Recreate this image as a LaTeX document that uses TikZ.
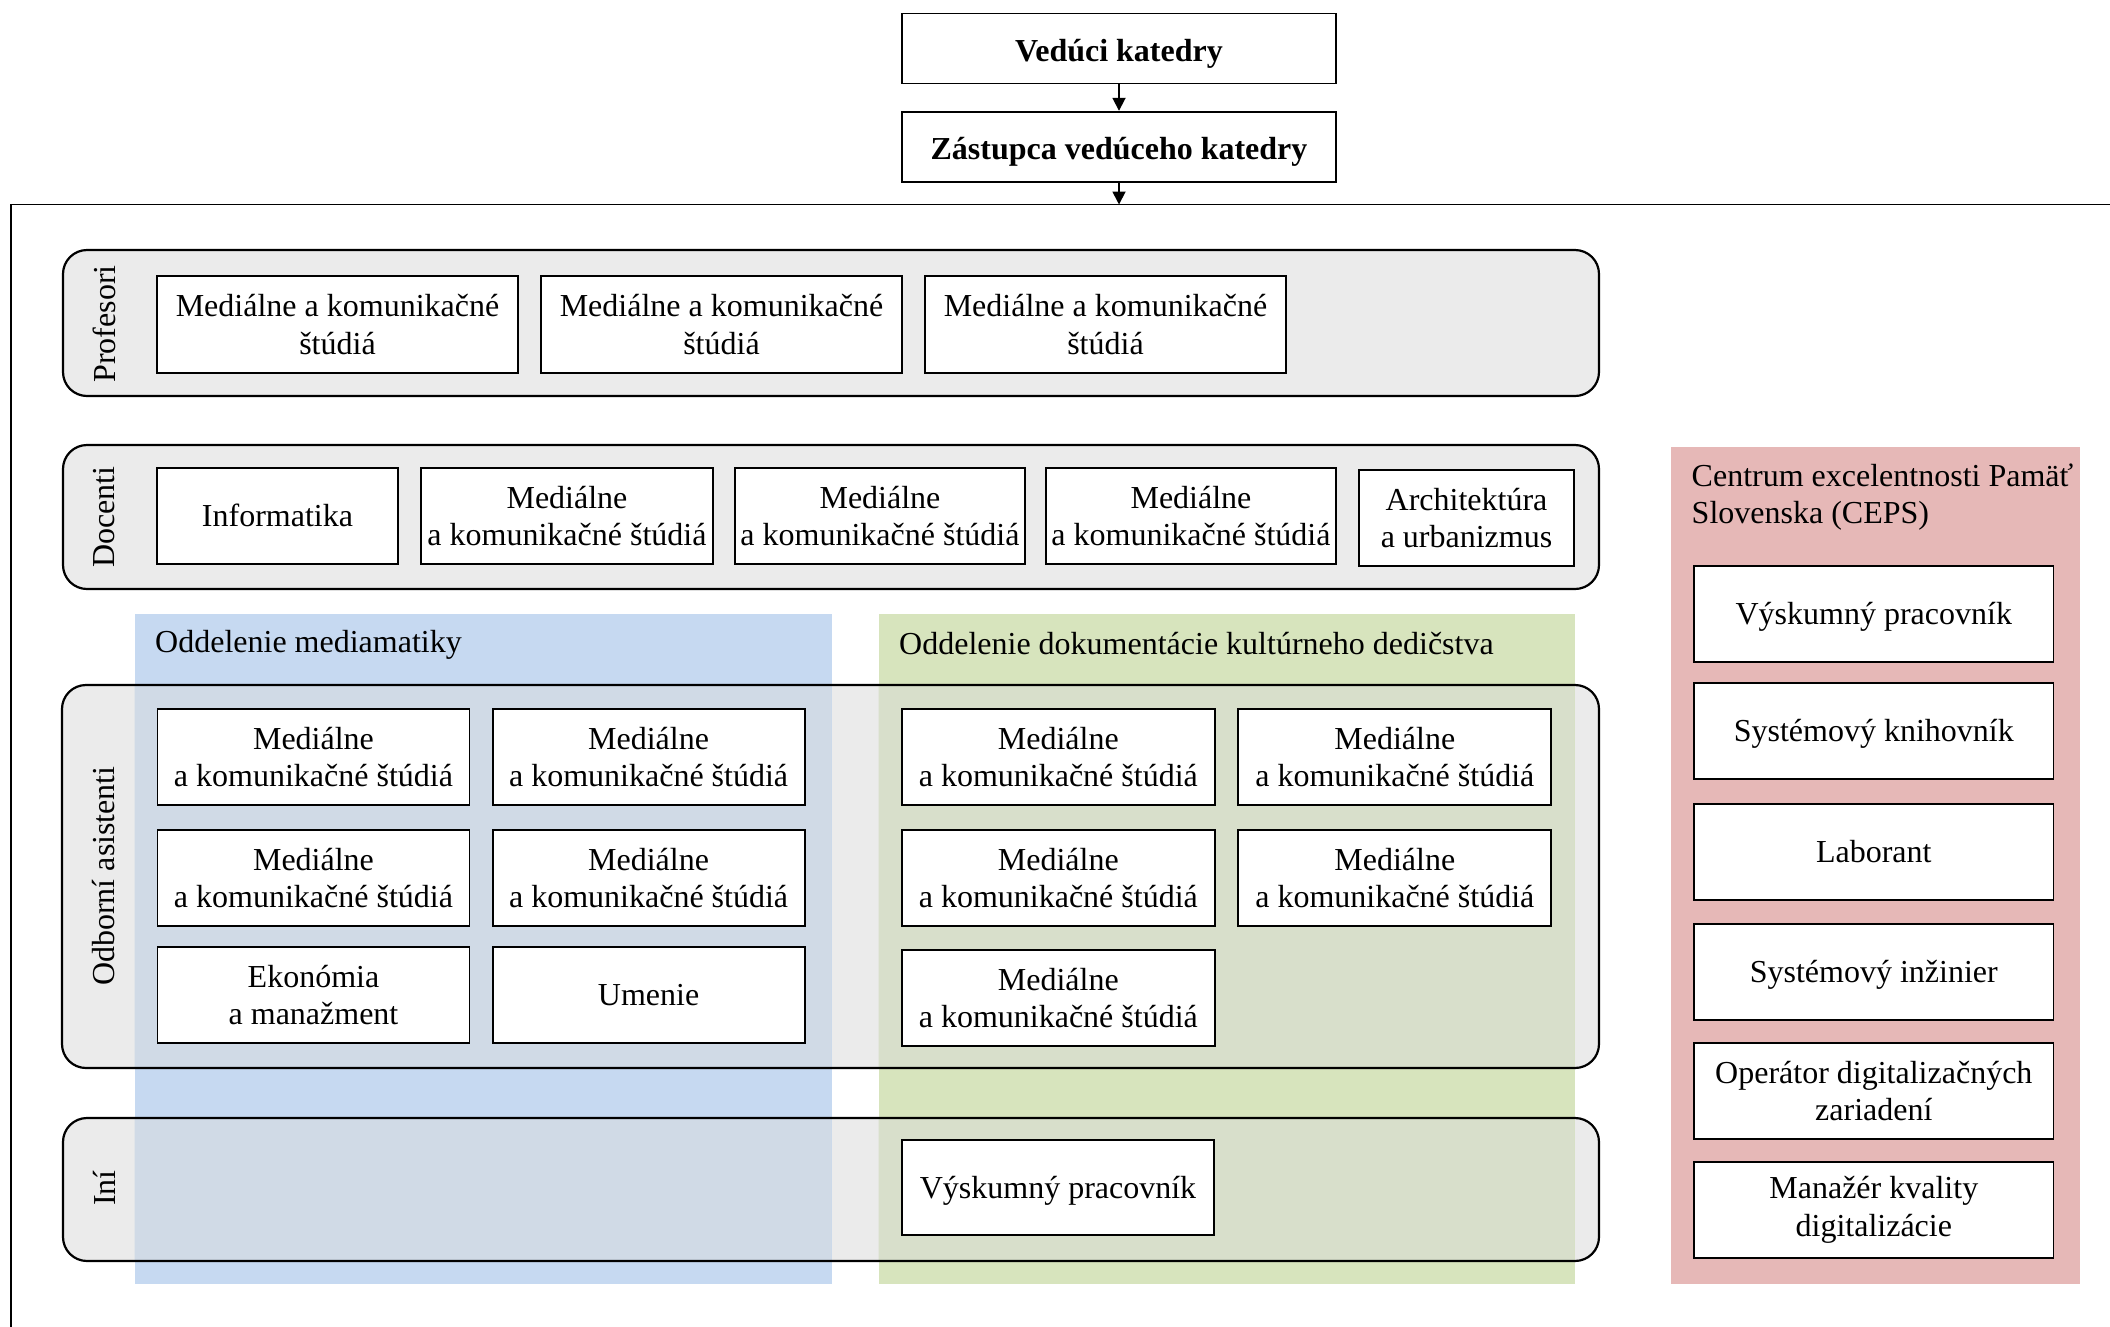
\documentclass[tikz,border=0pt]{standalone}
\usepackage{fontspec}
\setmainfont{Liberation Serif}
\usetikzlibrary{arrows.meta}
\definecolor{bandgray}{HTML}{EBEBEB}
\definecolor{deptblue}{HTML}{C6D9F1}
\definecolor{blueover}{HTML}{D0DAE6}
\definecolor{deptgreen}{HTML}{D7E4BD}
\definecolor{greenover}{HTML}{D8DFCB}
\definecolor{cepspink}{HTML}{E6B8B7}
\tikzset{
  txt/.style={font={\fontsize{32}{37.7}\selectfont}},
  box/.style={txt, draw=black, fill=white, line width=1.8pt, align=center, inner sep=2pt},
  oneline/.style={text height=28.5pt, text depth=6.9pt},
  topbox/.style={box, font={\fontsize{32}{37.7}\selectfont\bfseries}, minimum width=434pt, minimum height=70pt, text height=32.5pt, text depth=7pt},
  bandline/.style={draw=black, line width=2.2pt, rounded corners=24pt},
  bandfill/.style={fill=bandgray, rounded corners=24pt},
  vlabel/.style={txt, rotate=90, inner sep=0pt},
  arr/.style={line width=1.8pt, -{Triangle[length=13pt,width=13pt]}}
}
\newcommand{\bandP}{(63,250) rectangle (1599,396)}
\newcommand{\bandD}{(63,445) rectangle (1599,589)}
\newcommand{\bandO}{(62,685) rectangle (1599,1068)}
\newcommand{\bandI}{(63,1118) rectangle (1599,1261)}
\begin{document}
\begin{tikzpicture}[x=1pt,y=-1pt]
\useasboundingbox (0,0) rectangle (2110,1326);
% outer frame
\coordinate (frameTL) at (10.8,204.5);
\draw[line width=1.8pt] (10.8,1340) -- (frameTL) -- (2120,204.5);
% band fills
\path[bandfill] \bandP;
\path[bandfill] \bandD;
\path[bandfill] \bandO;
\path[bandfill] \bandI;
% department rectangles
\fill[deptblue] (134.6,613.6) rectangle (831.6,1283.8);
\fill[deptgreen] (878.7,613.6) rectangle (1574.5,1283.8);
\begin{scope}
  \clip (134.6,613.6) rectangle (831.6,1283.8);
  \path[fill=blueover, rounded corners=24pt] \bandO;
  \path[fill=blueover, rounded corners=24pt] \bandI;
\end{scope}
\begin{scope}
  \clip (878.7,613.6) rectangle (1574.5,1283.8);
  \path[fill=greenover, rounded corners=24pt] \bandO;
  \path[fill=greenover, rounded corners=24pt] \bandI;
\end{scope}
% band outlines
\path[bandline] \bandP;
\path[bandline] \bandD;
\path[bandline] \bandO;
\path[bandline] \bandI;
% CEPS
\fill[cepspink] (1671,447) rectangle (2080,1284);
% department labels
\node[txt, anchor=west, inner sep=0pt] (lblmed) at (155,645) {Oddelenie mediamatiky};
\node[txt, anchor=west, inner sep=0pt] (lbldok) at (899,644) {Oddelenie dokumentácie kultúrneho dedičstva};
\node[txt, anchor=west, inner sep=0pt, align=left] (lblceps) at (1691.5,497) {Centrum excelentnosti Pamäť\\Slovenska (CEPS)};
% row labels
\node[vlabel] (lprof) at (104,324) {Profesori};
\node[vlabel] (ldoc) at (104,517) {Docenti};
\node[vlabel] (lodb) at (104,876) {Odborní asistenti};
\node[vlabel] (lini) at (104,1188) {Iní};
% top
\node[topbox] (ved) at (1119,48.5) {Vedúci katedry};
\node[topbox] (zas) at (1119,146.7) {Zástupca vedúceho katedry};
\coordinate (frameIn) at (1119,204.5);
\draw[arr] (ved) -- (zas);
\draw[arr] (zas) -- (frameIn);
% Profesori
\node[box, minimum width=361pt, minimum height=97pt] (p1) at (337.5,324.5) {Mediálne a komunikačné\\štúdiá};
\node[box, minimum width=361pt, minimum height=97pt] (p2) at (721.5,324.5) {Mediálne a komunikačné\\štúdiá};
\node[box, minimum width=361pt, minimum height=97pt] (p3) at (1105.5,324.5) {Mediálne a komunikačné\\štúdiá};
% Docenti
\node[box, oneline, minimum width=241pt, minimum height=96pt] (d1) at (277.5,516) {Informatika};
\node[box, minimum width=292pt, minimum height=96pt] (d2) at (567,516) {Mediálne\\a komunikačné štúdiá};
\node[box, minimum width=290pt, minimum height=96pt] (d3) at (880,516) {Mediálne\\a komunikačné štúdiá};
\node[box, minimum width=290pt, minimum height=96pt] (d4) at (1191,516) {Mediálne\\a komunikačné štúdiá};
\node[box, minimum width=215pt, minimum height=96pt] (d5) at (1466.5,518) {Architektúra\\a urbanizmus};
% Odborni asistenti - mediamatika
\node[box, minimum width=312pt, minimum height=96pt] (m1) at (313.5,757) {Mediálne\\a komunikačné štúdiá};
\node[box, minimum width=312pt, minimum height=96pt] (m2) at (648.6,757) {Mediálne\\a komunikačné štúdiá};
\node[box, minimum width=312pt, minimum height=96pt] (m3) at (313.5,878) {Mediálne\\a komunikačné štúdiá};
\node[box, minimum width=312pt, minimum height=96pt] (m4) at (648.6,878) {Mediálne\\a komunikačné štúdiá};
\node[box, minimum width=312pt, minimum height=96pt] (m5) at (313.5,995) {Ekonómia\\a manažment};
\node[box, oneline, minimum width=312pt, minimum height=96pt] (m6) at (648.6,995) {Umenie};
% Odborni asistenti - dokumentacia
\node[box, minimum width=313pt, minimum height=96pt] (g1) at (1058.3,757) {Mediálne\\a komunikačné štúdiá};
\node[box, minimum width=313pt, minimum height=96pt] (g2) at (1394.8,757) {Mediálne\\a komunikačné štúdiá};
\node[box, minimum width=313pt, minimum height=96pt] (g3) at (1058.3,878) {Mediálne\\a komunikačné štúdiá};
\node[box, minimum width=313pt, minimum height=96pt] (g4) at (1394.8,878) {Mediálne\\a komunikačné štúdiá};
\node[box, minimum width=313pt, minimum height=96pt] (g5) at (1058.3,998) {Mediálne\\a komunikačné štúdiá};
% Ini
\node[box, oneline, minimum width=312pt, minimum height=95pt] (i1) at (1058,1187.5) {Výskumný pracovník};
% CEPS boxes
\node[box, oneline, minimum width=359.5pt, minimum height=96pt] (c1) at (1873.8,614) {Výskumný pracovník};
\node[box, oneline, minimum width=359.5pt, minimum height=96pt] (c2) at (1873.8,731) {Systémový knihovník};
\node[box, oneline, minimum width=359.5pt, minimum height=96pt] (c3) at (1873.8,852) {Laborant};
\node[box, oneline, minimum width=359.5pt, minimum height=96pt] (c4) at (1873.8,972) {Systémový inžinier};
\node[box, minimum width=359.5pt, minimum height=96pt] (c5) at (1873.8,1091) {Operátor digitalizačných\\zariadení};
\node[box, minimum width=359.5pt, minimum height=96pt] (c6) at (1873.8,1210) {Manažér kvality\\digitalizácie};
\end{tikzpicture}
\end{document}
